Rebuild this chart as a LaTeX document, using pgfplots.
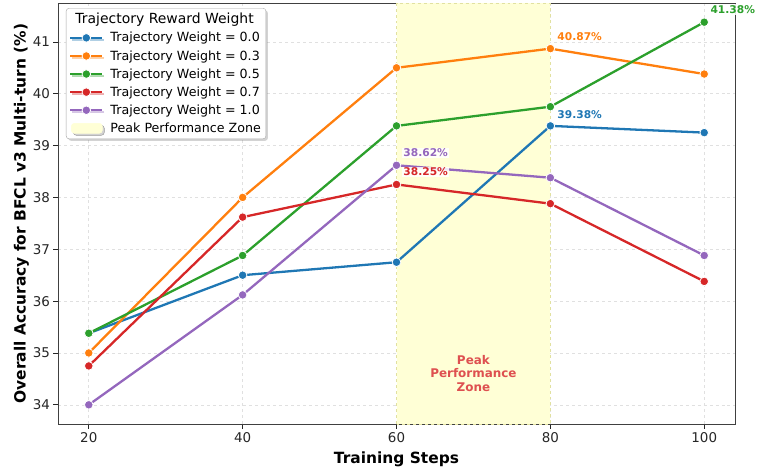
\documentclass[border=0pt]{standalone}
\usepackage{pgfplots}
\pgfplotsset{compat=1.18}
\usepackage{fontspec}
\setmainfont{DejaVu Sans}
\usetikzlibrary{shadows}
\definecolor{c0}{HTML}{1F77B4}
\definecolor{c1}{HTML}{FF7F0E}
\definecolor{c2}{HTML}{2CA02C}
\definecolor{c3}{HTML}{D62728}
\definecolor{c4}{HTML}{9467BD}
\definecolor{zone}{RGB}{255,255,214}
\definecolor{zoneedge}{RGB}{225,225,160}
\definecolor{zonetext}{RGB}{222,80,80}
\pgfplotsset{
  ser/.style={color=#1, line width=2.3pt, mark=*, mark size=4.3bp, mark options={fill=#1, draw=white, line width=0.8pt, solid}},
}
\begin{document}
\begin{tikzpicture}
\begin{axis}[
  name=ax,
  scale only axis,
  clip=false,
  width=677bp, height=421bp,
  xmin=16, xmax=104, ymin=33.63, ymax=41.75,
  xtick={20,40,60,80,100},
  ytick={34,35,36,37,38,39,40,41},
  xtick pos=bottom, ytick pos=left,
  tick align=outside,
  tick style={black!85, line width=0.7pt},
  major tick length=4.5bp,
  axis line style={black!75, line width=0.8pt},
  grid=major,
  grid style={dashed, black!12, line width=0.6pt},
  /pgf/number format/assume math mode=true,
  ticklabel style={font=\fontsize{13.5}{15}\selectfont, text=black!85},
  xlabel={\textbf{Training Steps}},
  ylabel={\textbf{Overall Accuracy for BFCL v3 Multi-turn (\%)}},
  xlabel style={font=\fontsize{15.5}{18}\selectfont, yshift=-3bp},
  ylabel style={font=\fontsize{15.5}{18}\selectfont, yshift=-3bp},
  legend cell align=left,
  legend style={font=\fontsize{12.7}{15}\selectfont, draw=black!35, rounded corners=3pt, fill=white, drop shadow={shadow xshift=2bp, shadow yshift=-2bp, opacity=0.35}, at={(0.0118,0.988)}, anchor=north west, row sep=3bp, inner xsep=3bp, inner ysep=3bp},
  legend image code/.code={\draw[mark repeat=2, mark phase=2] plot coordinates {(0bp,0bp) (16bp,0bp) (32bp,0bp)}; \path (37bp,0bp);},
]
\addplot[draw=zoneedge, dashed, line width=0.7pt, fill=zone, forget plot] coordinates {(60,33.63) (60,41.75) (80,41.75) (80,33.63)} -- cycle;
\addlegendimage{empty legend}
\addlegendentry{\hspace{-35bp}\fontsize{14}{16}\selectfont Trajectory Reward Weight}
\addplot[ser=c0] coordinates {(20,35.38) (40,36.50) (60,36.75) (80,39.38) (100,39.25)};
\addlegendentry{Trajectory Weight = 0.0}
\addplot[ser=c1] coordinates {(20,35.00) (40,38.00) (60,40.50) (80,40.87) (100,40.38)};
\addlegendentry{Trajectory Weight = 0.3}
\addplot[ser=c2] coordinates {(20,35.38) (40,36.88) (60,39.38) (80,39.75) (100,41.38)};
\addlegendentry{Trajectory Weight = 0.5}
\addplot[ser=c3] coordinates {(20,34.75) (40,37.62) (60,38.25) (80,37.88) (100,36.38)};
\addlegendentry{Trajectory Weight = 0.7}
\addplot[ser=c4] coordinates {(20,34.00) (40,36.12) (60,38.62) (80,38.38) (100,36.88)};
\addlegendentry{Trajectory Weight = 1.0}
\addlegendimage{legend image code/.code={\fill[zone] (1bp,-5bp) rectangle (32bp,5bp); \path (37bp,0bp);}}
\addlegendentry{Peak Performance Zone}
\node[font=\bfseries\fontsize{10.7}{12}\selectfont, text=c2, anchor=west, inner sep=1.5pt, fill=white, fill opacity=0.85, text opacity=1] at (axis cs:100.6,41.62) {41.38\%};
\node[font=\bfseries\fontsize{10.7}{12}\selectfont, text=c1, anchor=west, inner sep=0pt] at (axis cs:80.9,41.10) {40.87\%};
\node[font=\bfseries\fontsize{10.7}{12}\selectfont, text=c0, anchor=west, inner sep=0pt] at (axis cs:80.9,39.60) {39.38\%};
\node[font=\bfseries\fontsize{10.7}{12}\selectfont, text=c4, anchor=west, inner sep=1pt, fill=white, fill opacity=0.85, text opacity=1] at (axis cs:60.75,38.86) {38.62\%};
\node[font=\bfseries\fontsize{10.7}{12}\selectfont, text=c3, anchor=west, inner sep=1pt, fill=white, fill opacity=0.85, text opacity=1] at (axis cs:60.75,38.49) {38.25\%};
\node[font=\bfseries\fontsize{12}{13.5}\selectfont, text=zonetext, align=center] at (axis cs:70,34.61) {Peak\\Performance\\Zone};
\end{axis}
\pgfresetboundingbox
\path ([xshift=-58bp,yshift=-46bp]ax.south west) rectangle ([xshift=30bp,yshift=3bp]ax.north east);
\end{tikzpicture}
\end{document}
